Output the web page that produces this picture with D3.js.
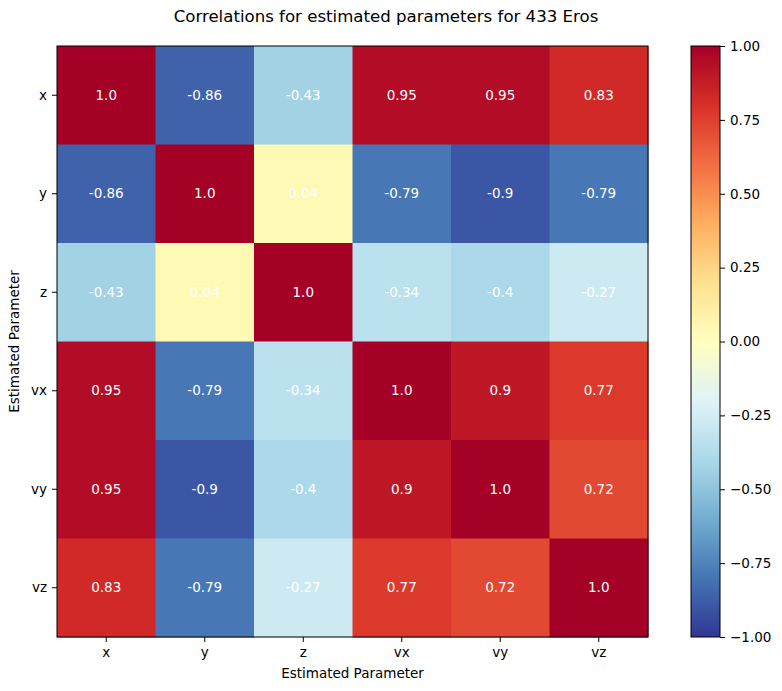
<!DOCTYPE html>
<html>
<head>
<meta charset="utf-8">
<script src="https://cdn.jsdelivr.net/npm/d3@7"></script>
<style>
  body { margin: 0; background: #fff; font-family: "DejaVu Sans", sans-serif; }
  svg text { fill: #000; }
</style>
</head>
<body>
<div id="chart"></div>
<script>
// estimated parameters (rows and columns)
var params = ["x", "y", "z", "vx", "vy", "vz"];

// correlation matrix, one array per row
var rowX  = [1.0, -0.86, -0.43, 0.95, 0.95, 0.83];
var rowY  = [-0.86, 1.0, 0.04, -0.79, -0.9, -0.79];
var rowZ  = [-0.43, 0.04, 1.0, -0.34, -0.4, -0.27];
var rowVx = [0.95, -0.79, -0.34, 1.0, 0.9, 0.77];
var rowVy = [0.95, -0.9, -0.4, 0.9, 1.0, 0.72];
var rowVz = [0.83, -0.79, -0.27, 0.77, 0.72, 1.0];
var matrix = [rowX, rowY, rowZ, rowVx, rowVy, rowVz];

var cbTicks = [1.0, 0.75, 0.5, 0.25, 0.0, -0.25, -0.5, -0.75, -1.0];

var W = 782, H = 691;
var plot = { left: 57, top: 46, size: 591 };
var cb = { left: 691, width: 29 };

var svg = d3.select("#chart").append("svg")
    .attr("width", W).attr("height", H);

// RdYlBu_r, linear between the 11 brewer stops like matplotlib
var stops = d3.schemeRdYlBu[11].slice().reverse();
var color = d3.scaleLinear()
    .domain(d3.range(11).map(function (i) { return -1 + i * 0.2; }))
    .range(stops)
    .interpolate(d3.interpolateRgb)
    .clamp(true);

var x = d3.scaleBand().domain(params).range([plot.left, plot.left + plot.size]);
var y = d3.scaleBand().domain(params).range([plot.top, plot.top + plot.size]);

var cells = [];
matrix.forEach(function (row, i) {
    row.forEach(function (v, j) {
        cells.push({ r: params[i], c: params[j], v: v });
    });
});

svg.append("g").selectAll("rect")
    .data(cells).enter().append("rect")
    .attr("x", function (d) { return x(d.c); })
    .attr("y", function (d) { return y(d.r); })
    .attr("width", x.bandwidth() + 0.5)
    .attr("height", y.bandwidth() + 0.5)
    .attr("fill", function (d) { return color(d.v); });

function fmt(v) {
    return Number.isInteger(v) ? v.toFixed(1) : String(v);
}

svg.append("g").selectAll("text")
    .data(cells).enter().append("text")
    .attr("x", function (d) { return x(d.c) + x.bandwidth() / 2; })
    .attr("y", function (d) { return y(d.r) + y.bandwidth() / 2; })
    .attr("text-anchor", "middle")
    .attr("dy", "0.35em")
    .style("font-size", "13.5px")
    .style("fill", "#fff")
    .text(function (d) { return fmt(d.v); });

// frame
svg.append("rect")
    .attr("x", plot.left).attr("y", plot.top)
    .attr("width", plot.size).attr("height", plot.size)
    .attr("fill", "none").attr("stroke", "#000").attr("stroke-width", 1);

var xAxis = svg.append("g")
    .attr("transform", "translate(0," + (plot.top + plot.size) + ")")
    .call(d3.axisBottom(x).tickSize(5).tickPadding(5));
var yAxis = svg.append("g")
    .attr("transform", "translate(" + plot.left + ",0)")
    .call(d3.axisLeft(y).tickSize(5).tickPadding(5));
[xAxis, yAxis].forEach(function (a) {
    a.select(".domain").remove();
    a.selectAll("text").style("font-size", "13.5px").style("font-family", "DejaVu Sans");
    a.selectAll("line").attr("stroke", "#000");
});

svg.append("text")
    .attr("x", plot.left + plot.size / 2).attr("y", 678)
    .attr("text-anchor", "middle")
    .style("font-size", "13.5px")
    .text("Estimated Parameter");

svg.append("text")
    .attr("transform", "translate(19," + (plot.top + plot.size / 2) + ") rotate(-90)")
    .attr("text-anchor", "middle")
    .style("font-size", "13.5px")
    .text("Estimated Parameter");

svg.append("text")
    .attr("x", 386).attr("y", 22)
    .attr("text-anchor", "middle")
    .style("font-size", "16.6px")
    .text("Correlations for estimated parameters for 433 Eros");

// colorbar
var cbScale = d3.scaleLinear().domain([-1, 1]).range([plot.top + plot.size, plot.top]);
var grad = svg.append("defs").append("linearGradient")
    .attr("id", "cbgrad")
    .attr("x1", 0).attr("y1", 1).attr("x2", 0).attr("y2", 0);
grad.selectAll("stop")
    .data(d3.range(0, 1.0001, 0.02)).enter().append("stop")
    .attr("offset", function (t) { return t; })
    .attr("stop-color", function (t) { return color(-1 + 2 * t); });

svg.append("rect")
    .attr("x", cb.left).attr("y", plot.top)
    .attr("width", cb.width).attr("height", plot.size)
    .attr("fill", "url(#cbgrad)")
    .attr("stroke", "#000").attr("stroke-width", 1);

var cbAxis = svg.append("g")
    .attr("transform", "translate(" + (cb.left + cb.width) + ",0)")
    .call(d3.axisRight(cbScale).tickValues(cbTicks).tickSize(5).tickPadding(5)
        .tickFormat(function (d) { return d3.format(".2f")(d).replace("-", "\u2212"); }));
cbAxis.select(".domain").remove();
cbAxis.selectAll("text").style("font-size", "13.5px").style("font-family", "DejaVu Sans");
cbAxis.selectAll("line").attr("stroke", "#000");
</script>
</body>
</html>
